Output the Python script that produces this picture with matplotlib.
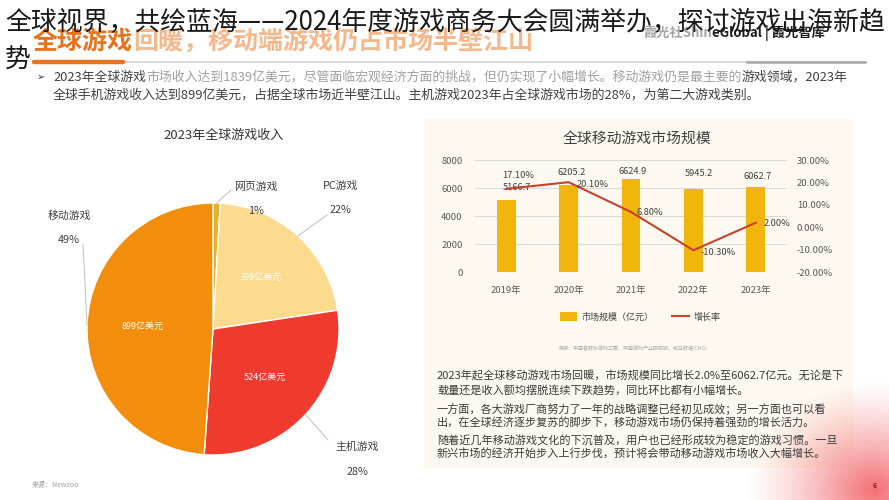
import numpy as np
import matplotlib
matplotlib.use("Agg")
import matplotlib.pyplot as plt
from matplotlib.patches import Rectangle, Patch
from matplotlib.lines import Line2D

plt.rcParams['font.family'] = ['Noto Sans CJK SC', 'DejaVu Sans']

# ---------------- data ----------------
page_title = "全球视界，共绘蓝海——2024年度游戏商务大会圆满举办，探讨游戏出海新趋"
page_title_tail = "势"
header_parts = ["全球游戏", "回暖，移动端游戏仍占市场半壁江山"]
brand_parts = ["霞光社Shin", "eGlobal | 霞光智库"]
bullet_line1_parts = ["2023年全球游戏",
                      "市场收入达到1839亿美元，尽管面临宏观经济方面的挑战，但仍实现了小幅增长。移动游戏仍是最主要的",
                      "游戏领域，2023年"]
bullet_line2 = "全球手机游戏收入达到899亿美元，占据全球市场近半壁江山。主机游戏2023年占全球游戏市场的28%，为第二大游戏类别。"

pie_title = "2023年全球游戏收入"
pie_labels = ["网页游戏", "PC游戏", "主机游戏", "移动游戏"]
pie_values = [17, 399, 524, 899]          # 亿美元
pie_pct = [1, 22, 28, 49]                 # %
pie_inner_show = [False, True, True, True]
pie_source = "来源：Newzoo"

bar_title = "全球移动游戏市场规模"
years = ["2019年", "2020年", "2021年", "2022年", "2023年"]
market = [5166.7, 6205.2, 6624.9, 5945.2, 6062.7]      # 亿元
growth = [0.171, 0.201, 0.068, -0.103, 0.020]
bar_series_name = "市场规模（亿元）"
line_series_name = "增长率"
bar_source = "来源：中国音数协游戏工委，中国游戏产业研究院，伽马数据(CNG)"

para_lines = [
    "2023年起全球移动游戏市场回暖，市场规模同比增长2.0%至6062.7亿元。无论是下",
    "载量还是收入额均摆脱连续下跌趋势，同比环比都有小幅增长。",
    "一方面，各大游戏厂商努力了一年的战略调整已经初见成效；另一方面也可以看",
    "出，在全球经济逐步复苏的脚步下，移动游戏市场仍保持着强劲的增长活力。",
    "随着近几年移动游戏文化的下沉普及，用户也已经形成较为稳定的游戏习惯。一旦",
    "新兴市场的经济开始步入上行步伐，预计将会带动移动游戏市场收入大幅增长。",
]
page_no = "6"

# ---------------- layout helpers ----------------
W, H = 889, 500
def fx(x): return x / W
def fy(y): return 1 - y / H

fig = plt.figure(figsize=(W / 100, H / 100), dpi=100)
fig.patch.set_facecolor("white")
renderer = fig.canvas.get_renderer()

def seg_text(x_px, y_px, parts, colors, **kw):
    x = x_px
    for p, c in zip(parts, colors):
        t = fig.text(x / W, fy(y_px), p, color=c, va="center", ha="left", **kw)
        x = t.get_window_extent(renderer).x1
    return x

# cream panel behind the right chart
fig.patches.append(Rectangle((fx(424), fy(468)), (853 - 424) / W, (468 - 119) / H,
                             transform=fig.transFigure, facecolor="#FDF9F0",
                             edgecolor="none", zorder=-1))

# pink glow bottom-right
axg = fig.add_axes([fx(740), 0, (W - 740) / W, 130 / H])
axg.set_axis_off()
gx, gy = np.meshgrid(np.linspace(740, W, 150), np.linspace(370, H, 130))
d = np.hypot((gx - 875) / 1.0, (gy - 490) / 0.85)
alpha = np.clip(1 - d / 130, 0, 1) ** 1.3 * 0.88
img = np.zeros(gx.shape + (4,))
img[..., 0] = 0.95; img[..., 1] = 0.36; img[..., 2] = 0.38
img[..., 3] = alpha
axg.imshow(img, extent=(740, W, H, 370), aspect="auto", origin="upper")

# ---------------- slide header ----------------
seg_text(33, 42, header_parts, ["#E8731E", "#F5B88C"], fontsize=18, fontweight="bold", zorder=2)
seg_text(643, 33, brand_parts, ["#A5A5A5", "#1E1E1E"], fontsize=9.5, fontweight="bold", zorder=2)

fig.add_artist(Line2D([fx(123), fx(865)], [fy(61.5), fy(61.5)], color="#D4D4D4", lw=1.3, zorder=1))
fig.add_artist(Line2D([fx(747), fx(865)], [fy(61.5), fy(61.5)], color="#A8A8A8", lw=1.8, zorder=1))
fig.add_artist(Line2D([fx(34), fx(123)], [fy(61.5), fy(61.5)], color="#E8731E", lw=3.2,
                      solid_capstyle="round", zorder=1))

fig.text(fx(37), fy(77), "➢", family=["DejaVu Sans"], fontsize=7, color="#333333",
         va="center", ha="left")
seg_text(53, 77, bullet_line1_parts, ["#404040", "#A0A0A0", "#404040"], fontsize=9.3)
fig.text(fx(53), fy(95), bullet_line2, fontsize=9.3, color="#404040", va="center", ha="left")

# overlay page title, fitted to the slide width
tt = fig.text(fx(5), fy(22), page_title, fontsize=19, color="#1A1A1A", va="center", ha="left", zorder=5)
wpx = tt.get_window_extent(renderer).width
tfs = 19 * 880 / wpx
tt.set_fontsize(tfs)
fig.text(fx(5), fy(60), page_title_tail, fontsize=tfs, color="#1A1A1A", va="center", ha="left", zorder=5)

# ---------------- pie chart ----------------
axp = fig.add_axes([0, 0, 420 / W, 390 / H])
def Y(py): return 500 - py
cx, cy, r = 213, Y(329), 126
pie_colors = ["#E9B22C", "#FCDB8F", "#EE3B2D", "#F28E0C"]
wedges, _ = axp.pie(pie_values, colors=pie_colors, startangle=90, counterclock=False,
                    center=(cx, cy), radius=r,
                    wedgeprops=dict(edgecolor="white", linewidth=1.0))
axp.set_xlim(0, 420); axp.set_ylim(0, 390)
axp.set_axis_off()

for w, v, show in zip(wedges, pie_values, pie_inner_show):
    if not show:
        continue
    th = np.deg2rad((w.theta1 + w.theta2) / 2)
    axp.text(cx + 0.56 * r * np.cos(th), cy + 0.56 * r * np.sin(th), f"{v}亿美元",
             fontsize=6.5, color="white", ha="center", va="center")

name_pos = [(256, 187), (341, 186), (357, 447), (69, 216)]
pct_pos = [(256, 211), (340, 210), (357, 472), (69, 240)]
leader_end = [(231, 190), (327, 215), (328, 440), (83, 244)]
for w, lab, p, npos, ppos, le in zip(wedges, pie_labels, pie_pct, name_pos, pct_pos, leader_end):
    th = np.deg2rad((w.theta1 + w.theta2) / 2)
    sx, sy = cx + r * np.cos(th), cy + r * np.sin(th)
    axp.plot([sx, le[0]], [sy, Y(le[1])], color="#BFBFBF", lw=0.7)
    axp.text(npos[0], Y(npos[1]), lab, fontsize=7.8, color="#404040", ha="center", va="center")
    axp.text(ppos[0], Y(ppos[1]), f"{p}%", fontsize=7.8, color="#404040", ha="center", va="center")

axp.text(224, Y(135), pie_title, fontsize=9.4, color="#333333", ha="center", va="center")
axp.text(32, Y(485), pie_source, fontsize=5, color="#A0A0A0", ha="left", va="center")

# ---------------- bar + line chart ----------------
ax2 = fig.add_axes([fx(475), fy(272), 312 / W, 112 / H])
x = np.arange(len(years))
bars = ax2.bar(x, market, width=0.3, color="#F2B50C", zorder=2)
ax2.set_ylim(0, 8000)
ax2.set_xlim(-0.5, len(years) - 0.5)
ax2.set_yticks(np.arange(0, 8001, 2000))
ax2.set_xticks(x, years)
ax2.grid(axis="y", color="#DADADA", lw=0.7, zorder=0)
ax2.set_axisbelow(True)
for s in ax2.spines.values():
    s.set_visible(False)
ax2.tick_params(axis="both", length=0, labelsize=6.8, labelcolor="#595959")
ax2.tick_params(axis="y", pad=9)
ax2.tick_params(axis="x", pad=10)
ax2.set_facecolor("none")

bar_off = [(8, 8.6), (2, 9.4), (1, 5.5), (4, 10.8), (1, 8)]
for i, (v, off) in enumerate(zip(market, bar_off)):
    ax2.annotate(f"{v:.1f}", (i, v), xytext=off, textcoords="offset points",
                 ha="center", va="center", fontsize=6.7, color="#404040")

ax3 = ax2.twinx()
ax3.plot(x, growth, color="#C5432D", lw=1.5, zorder=3)
ax3.set_ylim(-0.2, 0.3)
ax3.set_yticks(np.arange(-0.2, 0.31, 0.1))
ax3.set_yticklabels([f"{t * 100:.2f}%" for t in np.arange(-0.2, 0.31, 0.1)])
for s in ax3.spines.values():
    s.set_visible(False)
ax3.tick_params(axis="y", length=0, labelsize=6.8, labelcolor="#595959", pad=7)

rate_off = [(8.6, 9.4), (17.3, -1.4), (13.7, -0.7), (18, -1.4), (15, -0.7)]
for i, (g, off) in enumerate(zip(growth, rate_off)):
    ax3.annotate(f"{g * 100:.2f}%", (i, g), xytext=off, textcoords="offset points",
                 ha="center", va="center", fontsize=6.7, color="#404040")

fig.text(fx(637), fy(139), bar_title, fontsize=10.7, color="#404040", ha="center", va="center")

handles = [Patch(facecolor="#F2B50C", edgecolor="none"),
           Line2D([0], [0], color="#C5432D", lw=1.5)]
fig.legend(handles, [bar_series_name, line_series_name], loc="center",
           bbox_to_anchor=(fx(640), fy(317)), ncol=2, frameon=False, fontsize=6.5,
           handlelength=1.9, handleheight=1.1, columnspacing=2.0, handletextpad=0.5,
           labelcolor="#404040")

fig.text(fx(633), fy(348), bar_source, fontsize=3.6, color="#A8A8A8", ha="center", va="center")

para_y = [376, 390, 409, 422, 440, 453]
for line, yy in zip(para_lines, para_y):
    fig.text(fx(437), fy(yy), line, fontsize=8.0, color="#3A3A3A", ha="left", va="center")

fig.text(fx(875), fy(486), page_no, fontsize=5, color="#7A1E1E", ha="center", va="center",
         fontweight="bold")

fig.savefig("out.png", dpi=100, facecolor="white")
